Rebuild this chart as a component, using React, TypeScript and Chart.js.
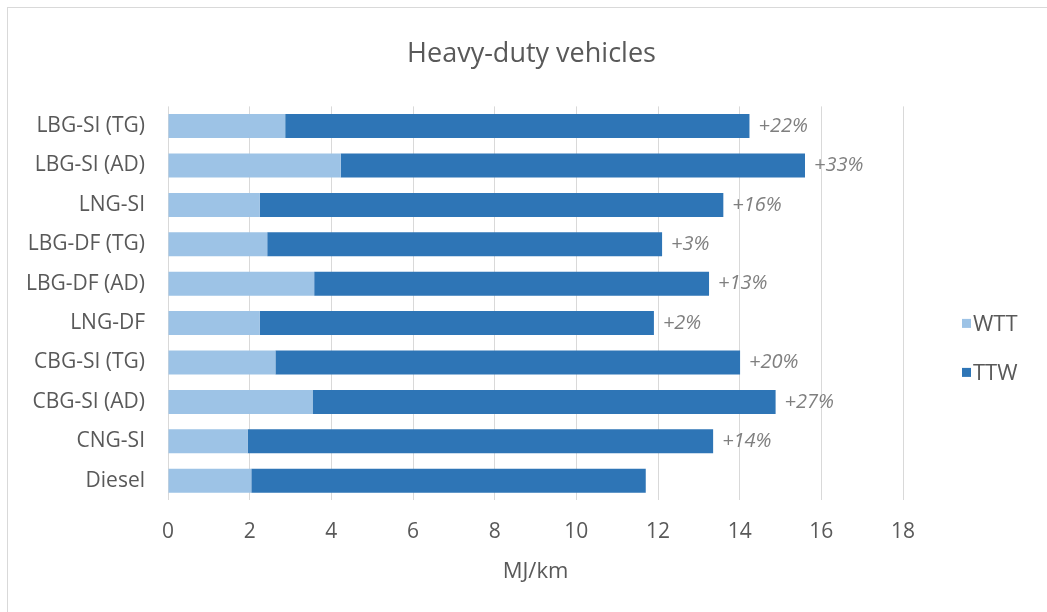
import React, { useEffect, useRef } from "react";
import { Chart, registerables } from "chart.js";

Chart.register(...registerables);

// Fuel pathways, listed top to bottom
const categories = [
  "LBG-SI (TG)",
  "LBG-SI (AD)",
  "LNG-SI",
  "LBG-DF (TG)",
  "LBG-DF (AD)",
  "LNG-DF",
  "CBG-SI (TG)",
  "CBG-SI (AD)",
  "CNG-SI",
  "Diesel",
];

// Well-to-tank energy use, MJ/km
const wttValues = [2.87, 4.23, 2.25, 2.43, 3.58, 2.25, 2.63, 3.54, 1.95, 2.04];

// Tank-to-wheel energy use, MJ/km
const ttwValues = [11.37, 11.37, 11.35, 9.67, 9.67, 9.65, 11.38, 11.34, 11.4, 9.66];

// Increase in total energy use relative to diesel
const increaseLabels = ["+22%", "+33%", "+16%", "+3%", "+13%", "+2%", "+20%", "+27%", "+14%", ""];

const xMin = 0;
const xMax = 18;
const xStep = 2;

const WTT_COLOR = "#9DC3E6";
const TTW_COLOR = "#2E75B6";
const TEXT_COLOR = "#595959";
const NOTE_COLOR = "#7F7F7F";
const GRID_COLOR = "#D9D9D9";
const FONT = "'Open Sans', 'DejaVu Sans', sans-serif";

// Italic percentage notes placed just past the end of each stacked bar
const increaseLabelPlugin = {
  id: "increaseLabels",
  afterDatasetsDraw(chart: any) {
    const meta = chart.getDatasetMeta(1);
    const ctx = chart.ctx as CanvasRenderingContext2D;
    ctx.save();
    ctx.font = `italic 20px ${FONT}`;
    ctx.fillStyle = NOTE_COLOR;
    ctx.textAlign = "left";
    ctx.textBaseline = "middle";
    meta.data.forEach((bar: any, i: number) => {
      const text = increaseLabels[i];
      if (!text) return;
      ctx.fillText(text, bar.x + 9, bar.y);
    });
    ctx.restore();
  },
};

// Legend drawn in the right-hand margin, below the plot's vertical middle
const sideLegendPlugin = {
  id: "sideLegend",
  afterDraw(chart: any) {
    const { ctx, chartArea } = chart;
    const x = chartArea.right + 59;
    const y0 = chartArea.top + 217;
    ctx.save();
    ctx.font = `22px ${FONT}`;
    ctx.textAlign = "left";
    ctx.textBaseline = "middle";
    chart.data.datasets.forEach((ds: any, i: number) => {
      const y = y0 + i * 49;
      ctx.fillStyle = ds.backgroundColor;
      ctx.fillRect(x, y - 4.5, 9, 9);
      ctx.fillStyle = TEXT_COLOR;
      ctx.fillText(ds.label, x + 11, y + 1);
    });
    ctx.restore();
  },
};

function HeavyDutyChart() {
  const canvasRef = useRef<HTMLCanvasElement | null>(null);

  useEffect(() => {
    if (!canvasRef.current) return;
    const chart = new Chart(canvasRef.current, {
      type: "bar",
      data: {
        labels: categories,
        datasets: [
          {
            label: "WTT",
            data: wttValues,
            backgroundColor: WTT_COLOR,
            borderWidth: 0,
            barPercentage: 0.61,
            categoryPercentage: 1,
          },
          {
            label: "TTW",
            data: ttwValues,
            backgroundColor: TTW_COLOR,
            borderWidth: 0,
            barPercentage: 0.61,
            categoryPercentage: 1,
          },
        ],
      },
      options: {
        indexAxis: "y",
        responsive: false,
        animation: false,
        devicePixelRatio: 1,
        layout: { padding: { left: 0, right: 0, top: 0, bottom: 27 } },
        plugins: {
          legend: { display: false },
          tooltip: { enabled: false },
          title: {
            display: true,
            text: "Heavy-duty vehicles",
            color: TEXT_COLOR,
            font: { family: FONT, size: 27, weight: "normal" },
            padding: { top: 30, bottom: 36 },
          },
        },
        scales: {
          x: {
            stacked: true,
            min: xMin,
            max: xMax,
            ticks: {
              stepSize: xStep,
              color: TEXT_COLOR,
              font: { family: FONT, size: 21 },
              padding: 19,
            },
            grid: { color: GRID_COLOR, lineWidth: 1, drawTicks: false },
            border: { display: false },
            title: {
              display: true,
              text: "MJ/km",
              color: TEXT_COLOR,
              font: { family: FONT, size: 22 },
              padding: { top: -5, bottom: 0 },
            },
          },
          y: {
            stacked: true,
            ticks: {
              color: TEXT_COLOR,
              font: { family: FONT, size: 21 },
              padding: 23,
            },
            grid: { display: false, drawTicks: false },
            border: { display: false },
            afterFit: (scale: any) => {
              scale.width = 160;
            },
          },
          // Empty right-hand axis that keeps a margin for the legend
          legendMargin: {
            type: "category",
            position: "right",
            ticks: { display: false },
            grid: { display: false, drawTicks: false },
            border: { display: false },
            afterFit: (scale: any) => {
              scale.width = 152;
            },
          },
        },
      },
      plugins: [increaseLabelPlugin, sideLegendPlugin],
    } as any);
    return () => chart.destroy();
  }, []);

  return (
    <div
      style={{
        position: "fixed",
        left: 0,
        top: 0,
        width: 1047,
        height: 612,
        overflow: "hidden",
        background: "#FFFFFF",
      }}
    >
      <div
        style={{
          position: "absolute",
          left: 7,
          top: 7,
          width: 1100,
          height: 700,
          border: `1px solid ${GRID_COLOR}`,
          boxSizing: "border-box",
        }}
      />
      <canvas
        ref={canvasRef}
        width={1047}
        height={604}
        style={{ position: "absolute", left: 8, top: 8, width: 1047, height: 604 }}
      />
    </div>
  );
}

export default function App() {
  return <HeavyDutyChart />;
}
